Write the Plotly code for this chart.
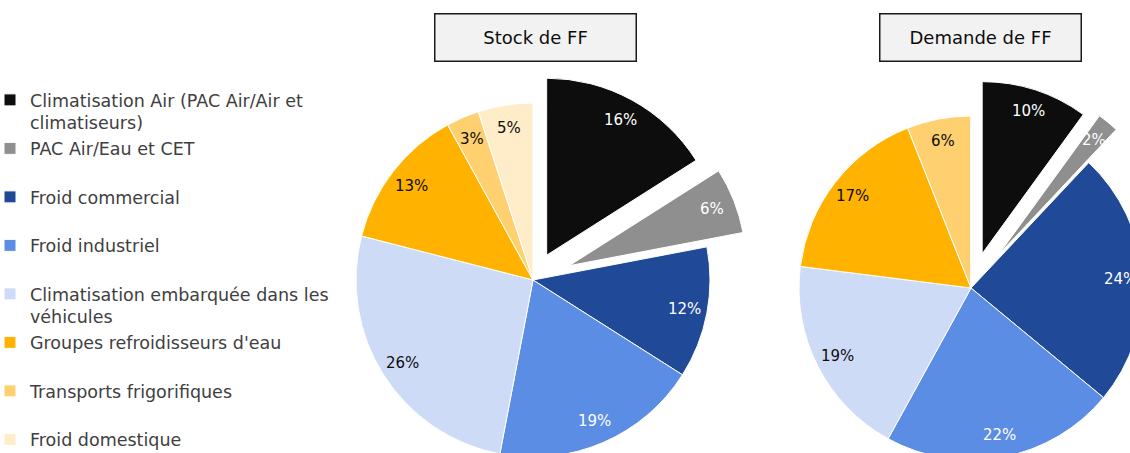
import math
import plotly.graph_objects as go

# ---- data ----
categories = [
    "Climatisation Air (PAC Air/Air et<br>climatiseurs)",
    "PAC Air/Eau et CET",
    "Froid commercial",
    "Froid industriel",
    "Climatisation embarquée dans les<br>véhicules",
    "Groupes refroidisseurs d'eau",
    "Transports frigorifiques",
    "Froid domestique",
]
stock_values = [16, 6, 12, 19, 26, 13, 3, 5]
demande_values = [10, 2, 24, 22, 19, 17, 6, 0]
chart_titles = ["Stock de FF", "Demande de FF"]

# ---- style ----
colors = ["#0d0d0d", "#8f8f8f", "#204a98", "#5b8de5", "#cedbf6",
          "#ffb300", "#ffd06f", "#ffecc9"]
label_colors = ["white", "white", "white", "white", "#0d0d0d",
                "#0d0d0d", "#0d0d0d", "#0d0d0d"]
pull_stock = [0.16, 0.22, 0, 0, 0, 0, 0, 0]
pull_demande = [0.21, 0.25, 0, 0, 0, 0, 0, 0]

W, H = 1200, 520
SHIFT = 10          # page is shifted left by this many pixels
FONT = "DejaVu Sans"

# pie geometry (visible pixels): centre x, centre y, radius
geo = [(533, 280, 177), (971, 288, 172)]


def domain_for(cx, cy, r, pulls):
    cx += SHIFT
    half = r * (1 + max(pulls))
    return dict(x=[(cx - half) / W, (cx + half) / W],
                y=[1 - (cy + half) / H, 1 - (cy - half) / H])


fig = go.Figure()
legend_labels = [c if "<br>" in c else c + "<br> " for c in categories]

series = [(stock_values, pull_stock), (demande_values, pull_demande)]
for k, (vals, pulls) in enumerate(series):
    cx, cy, r = geo[k]
    fig.add_trace(go.Pie(
        labels=legend_labels, values=vals, pull=pulls,
        sort=False, direction="clockwise", rotation=0,
        marker=dict(colors=colors, line=dict(color="white", width=1)),
        textinfo="none", hoverinfo="label+percent",
        domain=domain_for(cx, cy, r, pulls),
        showlegend=(k == 0),
    ))
    # percentage labels placed along each slice's mid-angle
    total = sum(vals)
    cum = 0
    for i, v in enumerate(vals):
        if v <= 0:
            cum += v
            continue
        mid = (cum + v / 2) / total * 2 * math.pi
        cum += v
        dist = (0.87 + pulls[i]) * r
        x = cx + SHIFT + dist * math.sin(mid)
        y = cy - dist * math.cos(mid)
        fig.add_annotation(
            x=x / W, y=1 - y / H, xref="paper", yref="paper",
            xanchor="center", yanchor="middle",
            text=f"{round(100 * v / total)}%", showarrow=False,
            font=dict(family=FONT, size=15, color=label_colors[i]),
        )

# title boxes
for k, t in enumerate(chart_titles):
    cx = [535, 980][k] + SHIFT
    fig.add_annotation(
        x=cx / W, y=1 - 37.5 / H, xref="paper", yref="paper",
        xanchor="center", yanchor="middle",
        text=t, showarrow=False, width=200, height=46,
        bgcolor="#f2f2f2", bordercolor="#1a1a1a", borderwidth=1.5,
        borderpad=0, font=dict(family=FONT, size=18, color="#0d0d0d"),
    )

fig.update_layout(
    width=W, height=H,
    margin=dict(l=0, r=0, t=0, b=0, autoexpand=False),
    paper_bgcolor="white", plot_bgcolor="white",
    font=dict(family=FONT),
    legend=dict(
        x=0, xanchor="left", y=1 - 82 / H, yanchor="top",
        valign="top", traceorder="normal",
        font=dict(family=FONT, size=17.5, color="#404040"),
        bgcolor="rgba(0,0,0,0)", itemclick=False, itemdoubleclick=False,
    ),
)

fig.write_html(
    "out.html",
    post_script="document.body.style.margin='0';"
                "document.body.style.overflow='hidden';"
                "document.documentElement.style.overflow='hidden';"
                f"document.body.style.marginLeft='-{SHIFT}px';",
)
